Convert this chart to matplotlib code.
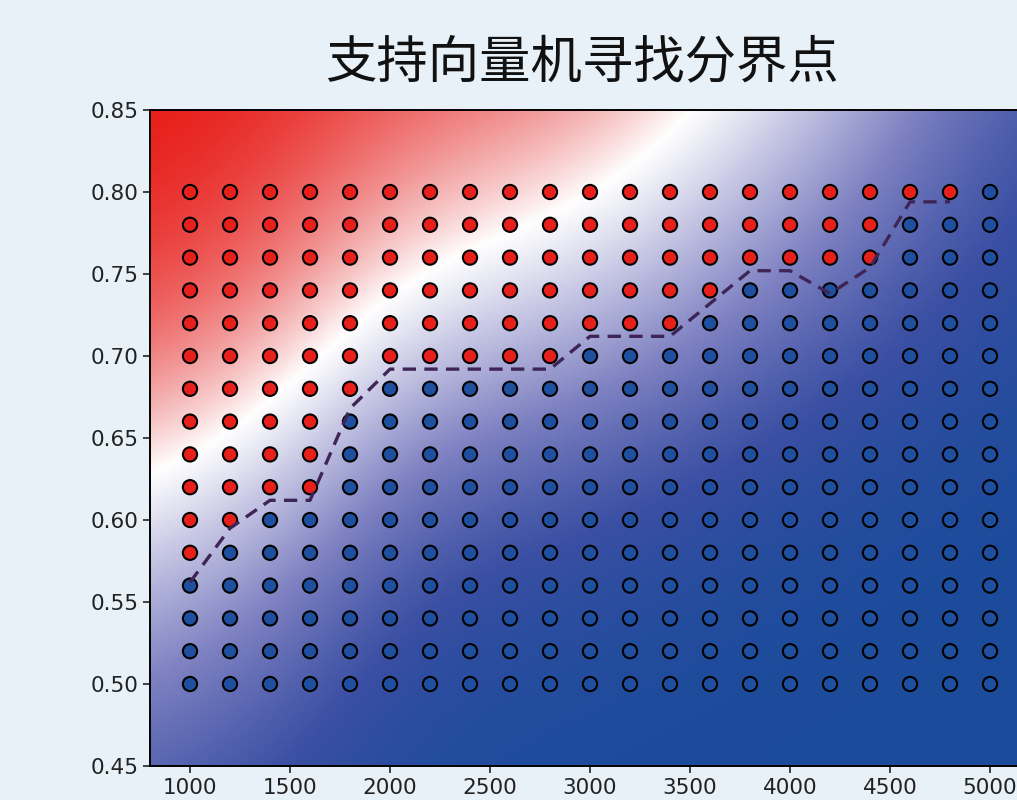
import numpy as np
import matplotlib.pyplot as plt
from matplotlib.colors import LinearSegmentedColormap, TwoSlopeNorm

# sample grid
x_vals = [1000, 1200, 1400, 1600, 1800, 2000, 2200, 2400, 2600, 2800, 3000,
          3200, 3400, 3600, 3800, 4000, 4200, 4400, 4600, 4800, 5000]
y_vals = [0.50, 0.52, 0.54, 0.56, 0.58, 0.60, 0.62, 0.64, 0.66, 0.68,
          0.70, 0.72, 0.74, 0.76, 0.78, 0.80]

# lowest y that is still class "red" in each column (None = whole column blue)
lowest_red = [0.58, 0.60, 0.62, 0.62, 0.68, 0.70, 0.70, 0.70, 0.70, 0.70, 0.72,
              0.72, 0.72, 0.74, 0.76, 0.76, 0.76, 0.76, 0.80, 0.80, None]

# dividing line found by the classifier
line_x = [1000, 1200, 1400, 1600, 1800, 2000, 2200, 2400, 2600, 2800,
          3000, 3200, 3400, 3600, 3800, 4000, 4200, 4400, 4600, 4800]
line_y = [0.562, 0.595, 0.612, 0.612, 0.668, 0.692, 0.692, 0.692, 0.692, 0.692,
          0.712, 0.712, 0.712, 0.732, 0.752, 0.752, 0.738, 0.754, 0.794, 0.794]

RED = '#e8201c'
BLUE = '#1f4f9f'

xs, ys, labels = [], [], []
for xv, lr in zip(x_vals, lowest_red):
    for yv in y_vals:
        xs.append(xv)
        ys.append(yv)
        labels.append(1.0 if (lr is not None and yv >= lr - 1e-9) else -1.0)
xs = np.array(xs, float)
ys = np.array(ys, float)
labels = np.array(labels)

# smooth background surface: gaussian-weighted average of the labels
def scaled(x, y):
    return (np.asarray(x) - 1000) / 200.0, (np.asarray(y) - 0.5) / 0.02

def kernel(au, av, bu, bv, lx=2.4, ly=5.0):
    return np.exp(-((au[:, None] - bu[None, :]) ** 2) / (2 * lx ** 2)
                  - ((av[:, None] - bv[None, :]) ** 2) / (2 * ly ** 2))

u, v = scaled(xs, ys)
gx = np.linspace(800, 5200, 440)
gy = np.linspace(0.45, 0.85, 200)
GX, GY = np.meshgrid(gx, gy)
gu, gv = scaled(GX.ravel(), GY.ravel())
W = kernel(gu, gv, u, v)
field = ((W @ labels) / W.sum(axis=1)).reshape(GX.shape)

cmap = LinearSegmentedColormap.from_list('svm', [
    (0.0, '#1b4b9b'), (0.1, '#3a4fa3'), (0.25, '#7f82c2'), (0.4, '#cacae6'),
    (0.5, '#ffffff'), (0.7, '#f3a6a6'), (1.0, '#e8201c')])

fig = plt.figure(figsize=(10.17, 8), dpi=100)
fig.patch.set_facecolor('#e8f1f8')
ax = fig.add_axes([150 / 1017, 34 / 800, 880 / 1017, 656 / 800])

ax.imshow(field, extent=[800, 5200, 0.45, 0.85], origin='lower', aspect='auto',
          cmap=cmap, norm=TwoSlopeNorm(0.35, field.min(), field.max()),
          interpolation='bilinear')

colors = [RED if l > 0 else BLUE for l in labels]
ax.scatter(xs, ys, s=105, c=colors, edgecolors='black', linewidths=1.5, zorder=3)
ax.plot(line_x, line_y, '--', color='#3f2556', lw=2.4, dashes=(4, 2.5), zorder=4)

ax.set_xlim(800, 5200)
ax.set_ylim(0.45, 0.85)
ax.set_xticks([1000, 1500, 2000, 2500, 3000, 3500, 4000, 4500, 5000])
ax.set_yticks([0.45, 0.50, 0.55, 0.60, 0.65, 0.70, 0.75, 0.80, 0.85])
ax.set_yticklabels(['0.45', '0.50', '0.55', '0.60', '0.65', '0.70', '0.75', '0.80', '0.85'])
ax.tick_params(labelsize=15.5, length=5, width=1.2, colors='#222222')
for s in ax.spines.values():
    s.set_linewidth(1.4)

fig.text(0.572, 0.922, '支持向量机寻找分界点', ha='center', va='center',
         fontsize=37, family=['Noto Sans CJK SC', 'DejaVu Sans'], color='#111111')

fig.savefig('out.png', dpi=100, facecolor=fig.get_facecolor())
